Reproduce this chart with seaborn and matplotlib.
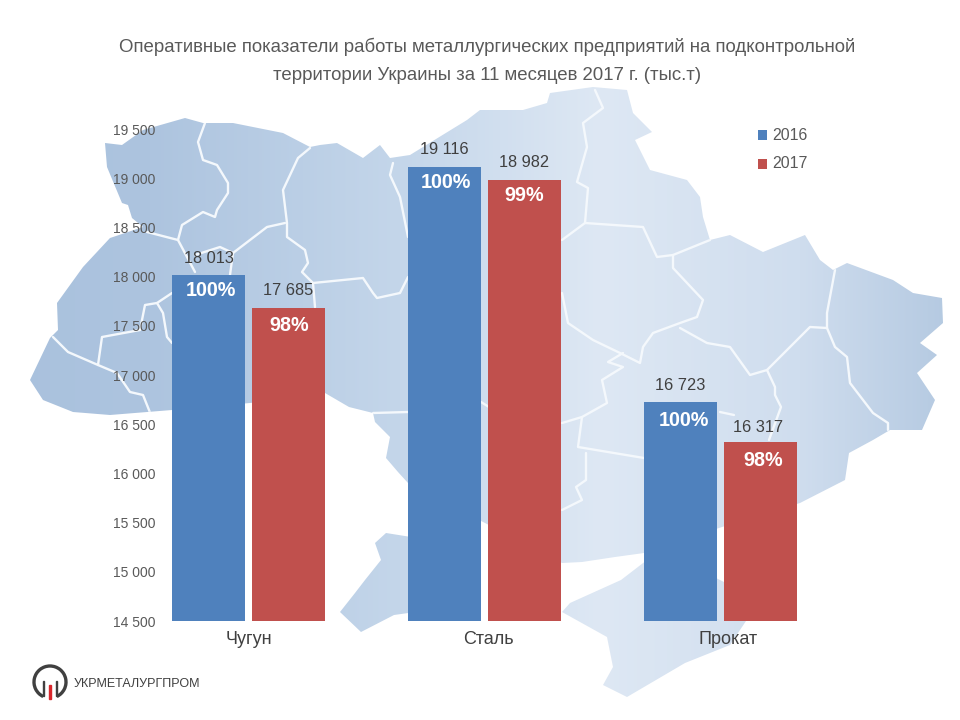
import matplotlib
matplotlib.use("Agg")
import matplotlib.pyplot as plt
from matplotlib.colors import to_rgb
from matplotlib.patches import Polygon, PathPatch, Rectangle, Arc
from matplotlib.path import Path
from matplotlib.transforms import ScaledTranslation
import numpy as np
import pandas as pd
import seaborn as sns

categories = ["Чугун", "Сталь", "Прокат"]
years = ["2016", "2017"]
values_2016 = [18013, 19116, 16723]
values_2017 = [17685, 18982, 16317]
pct_2016 = ["100%", "100%", "100%"]
pct_2017 = ["98%", "99%", "98%"]
value_labels_2016 = ["18 013", "19 116", "16 723"]
value_labels_2017 = ["17 685", "18 982", "16 317"]
yticks = [14500, 15000, 15500, 16000, 16500, 17000, 17500, 18000, 18500, 19000, 19500]
ytick_labels = ["14 500", "15 000", "15 500", "16 000", "16 500", "17 000", "17 500", "18 000", "18 500", "19 000", "19 500"]
colors = ["#4F81BD", "#C0504D"]

# Decorative background map, traced in pixel coordinates of the 960x720 picture
map_main = [(30,380),(50,338),(58,330),(57,303),(83,267),(110,238),(143,227),(132,218),(128,205),(122,203),(107,167),(105,143),
 (122,145),(143,130),(185,118),(203,123),(233,123),(283,133),(310,147),(320,145),(337,143),(363,158),(380,145),(390,158),
 (410,155),(467,120),(480,110),(523,110),(547,103),(550,93),(593,87),(627,90),(633,113),(652,132),(635,140),(650,170),
 (687,180),(700,197),(703,217),(710,240),(730,235),(763,252),(805,235),(820,260),(833,270),(847,263),(893,280),(913,293),
 (942,298),(943,323),(920,343),(937,355),(917,373),(933,397),(935,400),(922,430),(890,430),(873,440),(849,453),(845,480),
 (800,503),(722,527),(644,553),(615,557),(582,562),(562,563),(485,523),(440,500),(408,483),(398,472),(386,458),(390,437),
 (375,422),(373,413),(349,407),(325,393),(250,403),(172,410),(110,415),(73,412),(43,400)]
map_odessa = [(430,540),(386,533),(375,543),(381,560),(365,580),(355,593),(340,612),(361,632),(394,615),(430,610)]
map_crimea = [(660,550),(621,580),(570,603),(562,612),(607,637),(613,667),(603,685),(627,697),(685,663),(730,645),(760,600)]
borders = [
 [(205,123),(198,142),(203,160),(217,165),(228,183),(228,193),(217,210),(215,217),(203,212),(182,225),(178,240),(147,232)],
 [(178,240),(195,272)], [(195,255),(220,247),(233,253),(230,275)], [(233,253),(267,227),(285,223)],
 [(310,148),(298,158),(283,190),(287,223),(287,237),(305,250),(308,263),(302,272),(313,283),(363,278),(373,293),(377,298),(400,293),(408,277)],
 [(393,163),(390,175),(400,197),(408,237)], [(313,283),(315,307)],
 [(53,337),(68,352),(98,365),(117,373),(130,392),(143,395),(153,420)],
 [(98,365),(102,337),(140,330),(145,305),(157,303),(172,293)], [(157,303),(163,313),(167,337),(172,343)],
 [(595,90),(603,108),(583,123),(587,147),(577,182),(588,188),(585,223),(562,240)],
 [(585,223),(643,227),(657,257),(673,255),(710,240)],
 [(673,255),(673,268),(703,300),(697,317),(680,323),(653,333),(643,347),(640,363),(620,353),(593,340),(568,323),(562,293)],
 [(680,328),(707,343),(730,347),(750,375),(767,370),(810,327),(827,328),(827,313),(835,270)],
 [(827,328),(835,347),(847,357),(850,383),(873,413),(888,423),(888,430)],
 [(767,370),(775,387),(775,395),(781,407),(769,440)],
 [(623,353),(608,362),(623,367),(602,380),(607,403),(582,417),(562,423)],
 [(582,417),(578,447),(644,458)], [(586,453),(586,480),(576,487),(582,500),(562,510)],
 [(720,412),(734,415)], [(373,413),(408,412)], [(481,402),(489,407)],
]
map_gradient_x = [0, 150, 400, 600, 800, 950]
map_gradient_c = ["#A9C1DD", "#ADC4DF", "#C4D6EA", "#DEE8F4", "#CFDDEE", "#B4C9E1"]

sns.set_theme(style="white")
plt.rcParams["font.family"] = ["Liberation Sans", "DejaVu Sans"]

fig = plt.figure(figsize=(9.6, 7.2), dpi=100, facecolor="white")

# Background map layer
bg = fig.add_axes([0, 0, 1, 1], zorder=0)
bg.set_xlim(0, 960)
bg.set_ylim(720, 0)
bg.axis("off")
xs = np.arange(960)
grad = np.stack([np.interp(xs, map_gradient_x, [to_rgb(c)[i] for c in map_gradient_c]) for i in range(3)], axis=-1)[None, :, :]
im = bg.imshow(grad, extent=(0, 960, 720, 0), aspect="auto", interpolation="bilinear", zorder=1)
shape = Path.make_compound_path(*[Polygon(p, closed=True).get_path() for p in (map_main, map_odessa, map_crimea)])
clip = PathPatch(shape, transform=bg.transData, facecolor="none", edgecolor="none")
bg.add_patch(clip)
im.set_clip_path(clip)
for b in borders:
    px, py = zip(*b)
    line, = bg.plot(px, py, color="#F4F8FC", lw=1.7, zorder=2, solid_joinstyle="round")
    line.set_clip_path(clip)
bg.set_xlim(0, 960)
bg.set_ylim(720, 0)

# Chart layer
ax = fig.add_axes([130.5 / 960, 1 - 621 / 720, 708 / 960, (621 - 129) / 720], zorder=1)
ax.patch.set_alpha(0)

df = pd.DataFrame({
    "category": categories * 2,
    "year": [years[0]] * 3 + [years[1]] * 3,
    "value": values_2016 + values_2017,
})
sns.barplot(data=df, x="category", y="value", hue="year", palette=colors, hue_order=years,
            order=categories, gap=0.0875, width=0.678, saturation=1, linewidth=0, ax=ax, legend=False, zorder=2)
ax.set_ylim(14500, 19500)
ax.set_xlim(-0.5, 2.5)
ax.set_yticks(yticks, ytick_labels)
ax.tick_params(axis="y", labelsize=10, labelcolor="#595959", length=0, pad=-18)
ax.tick_params(axis="x", labelsize=13, labelcolor="#404040", length=0, pad=7)
ax.set_xlabel("")
ax.set_ylabel("")
for s in ax.spines.values():
    s.set_visible(False)
for lab, dx in zip(ax.get_xticklabels(), [0.5, 3.5, 7.5]):
    lab.set_transform(lab.get_transform() + ScaledTranslation(dx / 100, 0, fig.dpi_scale_trans))

label_dx = [[0, 0, 0], [0, 0, -2]]
pct_dx = [[2.5, 1.5, 3.5], [0.5, 0, 2.5]]
label_dy = [[17, 17, 17], [17, 17, 15]]
pct_dy = [[15, 16, 18], [18, 16, 18]]
for k, (container, vals, labs, pcts) in enumerate(zip(ax.containers, [values_2016, values_2017],
                                       [value_labels_2016, value_labels_2017], [pct_2016, pct_2017])):
    for j, (bar, v, l, p) in enumerate(zip(container.patches, vals, labs, pcts)):
        cx = bar.get_x() + bar.get_width() / 2
        ax.annotate(l, (cx, v), xytext=(label_dx[k][j] * 0.72, label_dy[k][j] * 0.72), textcoords="offset points",
                    ha="center", va="center", fontsize=11.8, color="#404040", zorder=5)
        ax.annotate(p, (cx, v), xytext=(pct_dx[k][j] * 0.72, -pct_dy[k][j] * 0.72), textcoords="offset points",
                    ha="center", va="center", fontsize=14.2, color="white", fontweight="bold", zorder=5)

title_lines = ["Оперативные показатели работы металлургических предприятий на подконтрольной",
               "территории Украины за 11 месяцев 2017 г. (тыс.т)"]
for t, y in zip(title_lines, [47, 76]):
    fig.text(487 / 960, 1 - y / 720, t, ha="center", va="center", fontsize=13.4, color="#595959", zorder=3)

for y, c, t in [(135, colors[0], years[0]), (164, colors[1], years[1])]:
    fig.add_artist(Rectangle((758 / 960, 1 - (y + 5) / 720), 9 / 960, 10 / 720, transform=fig.transFigure,
                             facecolor=c, edgecolor="none", zorder=3))
    fig.text(772 / 960, 1 - y / 720, t, ha="left", va="center", fontsize=11.4, color="#595959", zorder=3)

# Logo
lax = fig.add_axes([30 / 960, 1 - 702 / 720, 40 / 960, 40 / 720], zorder=2)
lax.set_xlim(0, 40)
lax.set_ylim(0, 40)
lax.axis("off")
lax.add_patch(Arc((20, 20), 32, 32, theta1=-65, theta2=245, color="#404040", lw=2.4))
lax.add_patch(Rectangle((12.5, 6), 1.8, 15, color="#404040"))
lax.add_patch(Rectangle((25.7, 6), 1.8, 15, color="#404040"))
lax.add_patch(Rectangle((18.8, 3), 2.4, 14, color="#D9262B"))
fig.text(74 / 960, 1 - 684 / 720, "УКРМЕТАЛУРГПРОМ", ha="left", va="center", fontsize=9, color="#404040", zorder=3)

fig.savefig("out.png", dpi=100, facecolor="white")
